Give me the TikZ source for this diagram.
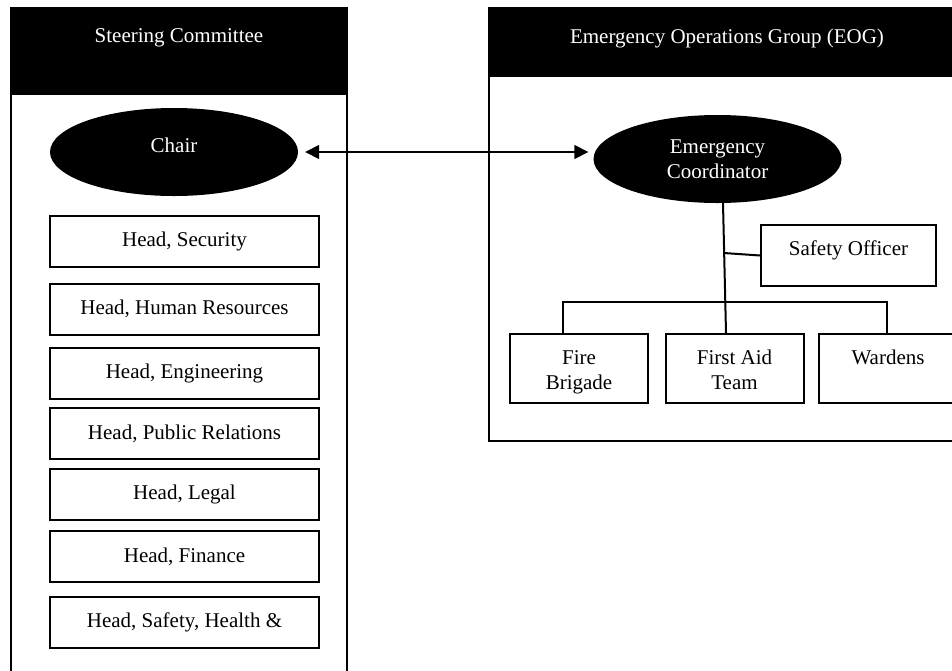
\documentclass[tikz,border=0pt]{standalone}
\usepackage{fontspec}
\setmainfont{Liberation Serif}
\usetikzlibrary{shapes.geometric,arrows.meta}
\newcommand*{\boxtextstyle}{\fontsize{21}{25}\selectfont}
\tikzset{
   panel/.style    = {draw=black, line width=2pt},
   paneltitle/.style = {font=\boxtextstyle, color=white},
   leadrole/.style = {ellipse, fill=black, text=white, inner sep=0pt,
                      minimum width=248pt, minimum height=88pt,
                      font=\boxtextstyle, align=center},
   headrole/.style = {draw=black, line width=2pt, inner sep=0pt,
                      minimum width=269pt, minimum height=51pt,
                      font=\boxtextstyle},
   teamrole/.style = {draw=black, line width=2pt, inner sep=0pt,
                      minimum width=138pt, minimum height=69pt,
                      font=\boxtextstyle, align=center},
   highertext/.style = {text height=8pt, text depth=8pt},
   lowertext/.style  = {text height=48.5pt, text depth=7.5pt},
   link/.style     = {line width=2pt},
   twoway/.style   = {line width=1.5pt,
                      {Triangle[length=14pt,width=14pt]}-{Triangle[length=14pt,width=14pt]}}
}

\begin{document}
\begin{tikzpicture}[x=1pt, y=-1pt]

    \clip (0,0) rectangle (952,670);
    \fill[white] (0,0) rectangle (952,670);

    % steering committee
    \draw[panel] (11,8) rectangle (347,700);
    \fill[black] (11,8) rectangle (347,95);
    \node[paneltitle] (sctitle) at (179,38) {Steering Committee};

    \node[leadrole, highertext] (chair) at (174,152) {Chair};

    \node[headrole] (security)    at (184.5,241.5) {Head, Security};
    \node[headrole] (hr)          at (184.5,309)   {Head, Human Resources};
    \node[headrole] (engineering) at (184.5,373)   {Head, Engineering};
    \node[headrole] (pr)          at (184.5,433.5) {Head, Public Relations};
    \node[headrole] (legal)       at (184.5,494.5) {Head, Legal};
    \node[headrole] (finance)     at (184.5,556.5) {Head, Finance};
    \node[headrole] (she)         at (184.5,622.5) {Head, Safety, Health \&};

    % emergency operations group
    \draw[panel] (489,8) rectangle (975,441);
    \fill[black] (489,8) rectangle (975,77);
    \node[paneltitle] (eogtitle) at (727,38) {Emergency Operations Group (EOG)};

    \node[leadrole] (coord) at (717.5,159) {Emergency\\Coordinator};

    \node[teamrole, highertext, minimum width=175pt, minimum height=61pt]
        (safety) at (848.5,255.5) {Safety Officer};

    \node[teamrole, lowertext] (fire)     at (579,368.5)   {Fire\\Brigade};
    \node[teamrole, lowertext] (firstaid) at (734.5,368.5) {First Aid\\Team};
    \node[teamrole, lowertext] (wardens)  at (888,368.5)   {Wardens\\\strut};

    % links
    \draw[twoway, shorten <=7pt, shorten >=5pt] (chair.east) -- (chair.east -| coord.west);

    \draw[link] ([xshift=5.5pt]coord.south) -- ([xshift=-8.5pt]firstaid.north);
    \coordinate (sojoin) at (724,253);
    \draw[link] (sojoin) -- (safety.west);
    \draw[link] ([xshift=-16pt]fire.north) -- ++(0,-31) -| ([xshift=-1pt]wardens.north);

\end{tikzpicture}
\end{document}
